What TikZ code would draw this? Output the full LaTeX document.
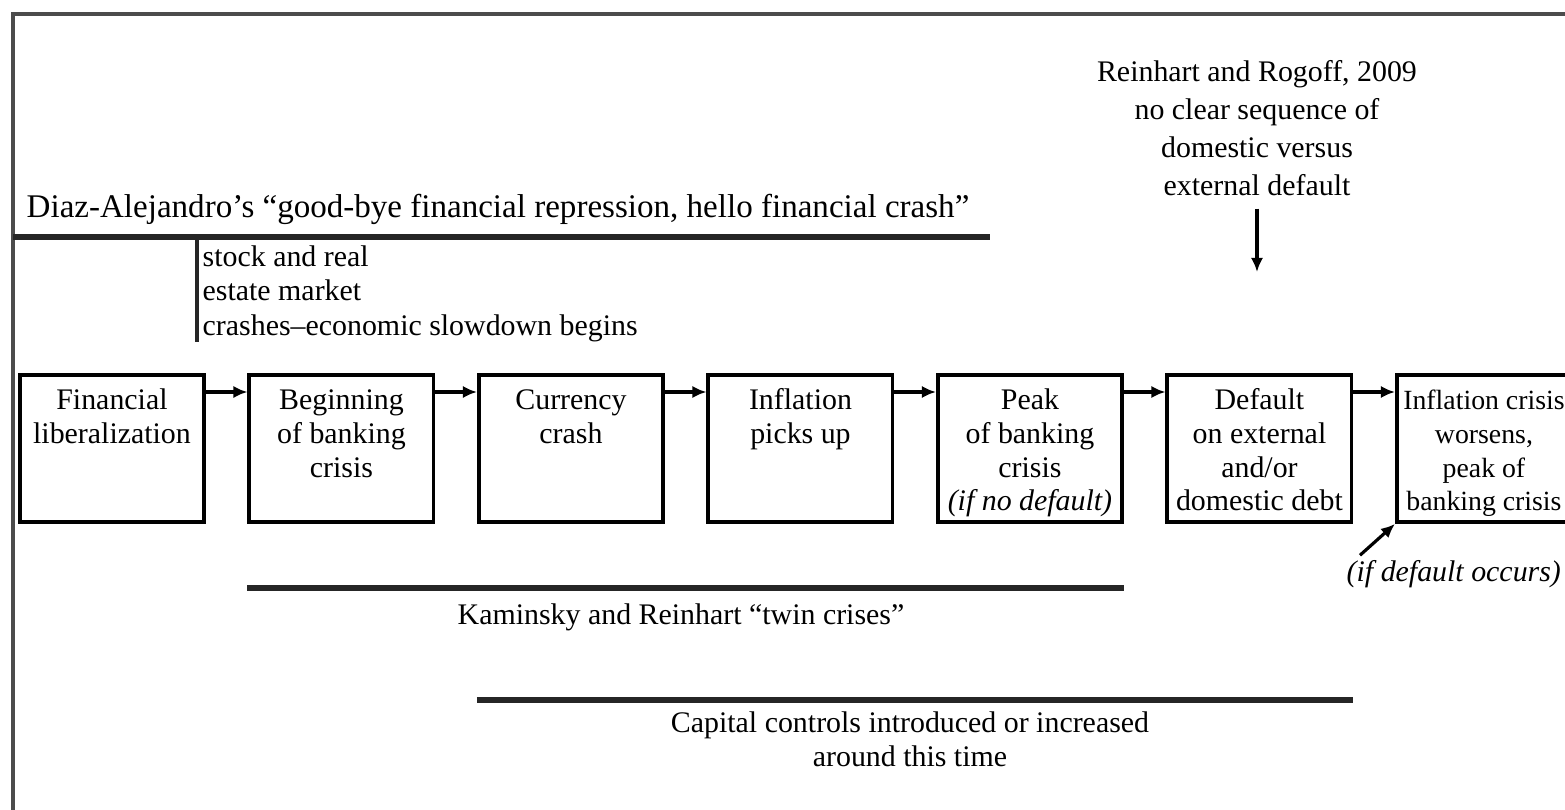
\documentclass[tikz,border=0pt]{standalone}
\usepackage{fontspec}
\setmainfont{Liberation Serif}
\usetikzlibrary{positioning}
\usetikzlibrary{arrows.meta}

\newcommand{\boxtxt}[2][1.8cm]{\parbox[t][1.25cm][t]{#1}{\centering\strut #2}}

\begin{document}
\begin{tikzpicture}[
    x=0.01cm, y=-0.01cm,
    font=\fontsize{8.5}{9.6}\selectfont,
    node distance=0.415cm
]
\tikzset{
    stage/.style = {draw=black, line width=1.1pt, minimum width=1.84cm, minimum height=1.47cm, inner sep=0pt},
    edgea/.style = {-{Latex[length=4pt,width=3.5pt]}, line width=0.9pt},
    frame/.style = {line width=1pt, black!70},
    span/.style = {line width=1.5pt, black!85},
    note/.style = {inner sep=0pt, align=center}
}
\useasboundingbox (0,0) rectangle (1565,810);
% frame
\draw[frame] (13,810) -- (13,14) -- (1565,14);

% top notes
\node[note, anchor=base west, font=\fontsize{9.4}{10}\selectfont] at (26,218) (dz) {Diaz-Alejandro's ``good-bye financial repression, hello financial crash''};
\coordinate (dzl) at (13,237);
\coordinate (dzr) at (990,237);
\draw[span] (dzl) -- (dzr);
\draw[line width=1.2pt, black!85] (197,237) -- (197,342);
\node[inner sep=0pt, align=left, anchor=north west, font=\fontsize{8.5}{9.8}\selectfont] at (202,245) (stk) {stock and real\\estate market\\crashes--economic slowdown begins};

\node[note, anchor=north, font=\fontsize{8.5}{10.8}\selectfont] at (1257,60) (rr) {Reinhart and Rogoff, 2009\\no clear sequence of\\domestic versus\\external default};
\coordinate (rrtip) at (1257,272);
\draw[edgea] ([yshift=-0.12cm]rr.south) -- (rrtip);

% stages
\node[stage, anchor=north west] at (18,373) (s1) {\boxtxt{Financial\\liberalization}};
\node[stage, right=of s1] (s2) {\boxtxt{Beginning\\of banking\\crisis}};
\node[stage, right=of s2] (s3) {\boxtxt{Currency\\crash}};
\node[stage, right=of s3] (s4) {\boxtxt{Inflation\\picks up}};
\node[stage, right=of s4] (s5) {\boxtxt{Peak\\of banking\\crisis\\\textit{(if no default)}}};
\node[stage, right=of s5] (s6) {\boxtxt{Default\\on external\\and/or\\domestic debt}};
\node[stage, right=of s6, minimum width=1.74cm] (s7) {\boxtxt[1.7cm]{\fontsize{7.9}{9.6}\selectfont Inflation crisis\\worsens,\\peak of\\banking crisis}};

\draw[edgea] ([yshift=-0.19cm]s1.north east) -- ([yshift=-0.19cm]s2.north west);
\draw[edgea] ([yshift=-0.19cm]s2.north east) -- ([yshift=-0.19cm]s3.north west);
\draw[edgea] ([yshift=-0.19cm]s3.north east) -- ([yshift=-0.19cm]s4.north west);
\draw[edgea] ([yshift=-0.19cm]s4.north east) -- ([yshift=-0.19cm]s5.north west);
\draw[edgea] ([yshift=-0.19cm]s5.north east) -- ([yshift=-0.19cm]s6.north west);
\draw[edgea] ([yshift=-0.19cm]s6.north east) -- ([yshift=-0.19cm]s7.north west);

\node[note, anchor=base west] at (1346,582) (dlab) {\textit{(if default occurs)}};
\draw[edgea] ([shift={(14,-5)}]dlab.north west) -- (s7.south west);

% spans below
\draw[span] (s2.west |- 0,588) -- (s5.east |- 0,588);
\node[note, anchor=base] at (681,625) (kr) {Kaminsky and Reinhart ``twin crises''};
\draw[span] (s3.west |- 0,700) -- (s6.east |- 0,700);
\node[note, anchor=north] at (910,711) (cc) {Capital controls introduced or increased\\around this time};
\end{tikzpicture}
\end{document}
